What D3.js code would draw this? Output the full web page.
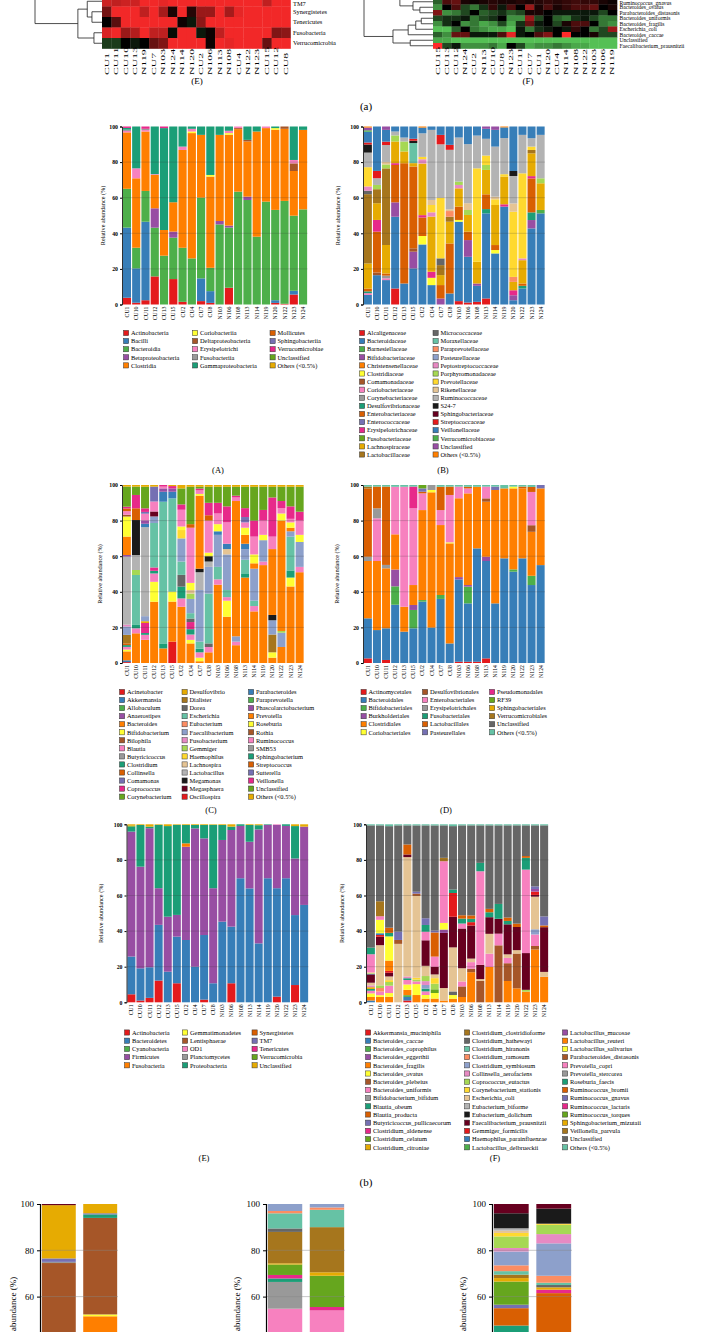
<!DOCTYPE html>
<html>
<head>
<meta charset="utf-8">
<script src="https://cdn.jsdelivr.net/npm/d3@7"></script>
<style>
  body { margin: 0; background: #fff; }
  svg { display: block; font-family: "Liberation Serif", "DejaVu Serif", serif; }
</style>
</head>
<body>
<svg id="fig" width="701" height="1344"></svg>
<script>
// ---------- data ----------
var samples = ["CU1","CU10","CU11","CU12","CU13","CU15","CU2","CU4","CU7","CU8","N103","N106","N108","N113","N114","N119","N120","N122","N123","N124"];
var yTicks = [0, 20, 40, 60, 80, 100];

// colour cycle used by every stacked panel (27 colours, then it repeats)
var palette = ["#e41a1c","#377eb8","#4daf4a","#984ea3","#ff7f00","#ffff33","#a65628","#f781bf","#999999",
  "#1b9e77","#d95f02","#7570b3","#e7298a","#66a61e","#e6ab02","#a6761d","#666666",
  "#66c2a5","#fc8d62","#8da0cb","#e78ac3","#a6d854","#ffd92f","#e5c494","#b3b3b3","#1a1a1a","#67001f"];

// heatmap (a)(E): phyla, only the lower rows are in view
var phylaCols = ["CU1","CU11","CU10","CU13","N119","CU7","N103","N124","N114","N120","CU2","N106","N113","N108","CU4","N122","N123","CU15","CU12","CU8"];
var phylaRows = ["TM7","Synergistetes","Tenericutes","Fusobacteria","Verrucomicrobia"];
var phylaHeat = [
  [0.8,0.75,0.8,0.8,0.95,0.95,0.9,0.95,0.95,0.95,0.95,0.95,0.95,0.95,0.95,0.95,0.95,0.75,0.95,0.95],
  [0.45,0.95,0.95,0.95,0.75,0.95,0.65,0.1,0.95,0.15,0.6,0.6,0.95,0.65,0.9,0.95,0.95,0.95,0.95,0.95],
  [0,0.35,0.95,0.95,0.95,0.95,0.95,0.95,0.05,-0.1,0.55,0.95,0.95,0.95,0.95,0.95,0.95,0.95,0.95,0.95],
  [0.85,0.95,0.6,0.7,0.95,0.75,0.75,-0.05,0.95,0.95,-0.1,0.05,0.75,0.95,0.95,0.95,0.95,0.95,0.5,0.55],
  [-0.25,-0.25,0,-0.1,0,0.4,0.5,0.95,0.95,0.95,0.95,0.05,0.95,0.9,0.95,0.95,0.95,0.4,0.95,0.95]
];
// merges: [child, child, height]; negative children are rows above the view
var phylaTree = [[1,2,0.15],[0,5,0.22],[3,4,0.12],[6,7,0.36],[-3,8,1]];

// heatmap (a)(F): species
var speciesCols = ["CU15","CU13","CU12","N124","CU2","N113","CU10","CU8","N123","CU11","CU7","CU1","N120","CU4","N114","N108","N122","N103","N106","N119"];
var speciesRows = ["Ruminococcus_gnavus","Bacteroides_ovatus","Parabacteroides_distasonis","Bacteroides_uniformis","Bacteroides_fragilis","Escherichia_coli","Bacteroides_caccae","Unclassified","Faecalibacterium_prausnitzii"];
var speciesHeat = [
  [-0.4,0.3,0.4,0.1,0.05,0.1,0.15,0.1,0.1,0.15,0.1,0.15,0.2,0.15,0.2,0.25,0.2,0.2,0.1,0.05],
  [-0.6,0,0.3,-0.3,-0.5,-0.2,0.2,-0.1,0.3,0,0.6,0.1,0.3,0.1,0.2,0.3,0.3,0.4,0,0.1],
  [0.5,-0.6,-0.5,-0.3,0,-0.4,-0.3,-0.2,-0.4,-0.3,0.1,0.1,0,-0.1,-0.1,-0.1,-0.1,-0.1,-0.3,0],
  [-0.3,-0.2,-0.2,-0.1,-0.5,-0.3,-0.2,0,-0.6,-0.6,0.6,-0.3,0,-0.4,-0.5,-0.2,-0.1,-0.3,-0.5,-0.5],
  [-0.6,-0.2,0,-0.6,-0.5,-0.7,-0.6,-0.3,-0.7,-0.2,0.4,-0.1,0,-0.3,0.1,0.3,0.3,0,-0.5,-0.6],
  [-0.8,-0.8,-0.4,0,-0.5,-0.6,-0.7,-0.7,-0.8,-0.1,-0.5,-0.2,-0.1,0,-0.1,0.2,0,-0.5,-0.3,0.6],
  [-0.4,-0.6,0.4,0.4,-0.1,-0.1,-0.1,0.3,0.9,-0.1,0,0.3,0.5,0,1,0,0,0.1,-0.3,-0.3],
  [-0.7,-0.7,-0.8,-0.8,-0.8,-0.8,-0.8,-0.8,-0.8,-0.8,-0.8,-0.8,-0.8,-0.8,-0.8,-0.8,-0.8,-0.8,-0.8,-0.8],
  [1,-0.3,-0.1,-0.6,-0.6,-0.6,-0.5,-0.7,0,-0.3,-0.7,-0.6,-0.6,-0.5,-0.6,-0.7,-0.7,-0.8,-0.8,-0.8]
];
var speciesTree = [[3,4,0.17],[9,5,0.25],[10,6,0.36],[7,8,0.33],[11,12,0.58],[1,2,0.19],[0,14,0.29],[-2,15,0.48],[-6,13,1]];

// (b)(A) class
var classTaxa = ["Actinobacteria","Bacilli","Bacteroidia","Betaproteobacteria","Clostridia","Coriobacteriia","Deltaproteobacteria","Erysipelotrichi","Fusobacteriia","Gammaproteobacteria","Mollicutes","Sphingobacteriia","Verrucomicrobiae","Unclassified","Others (<0.5%)"];
var classValues = [
  {Actinobacteria:3.8,Bacilli:39.4,Bacteroidia:21.8,Clostridia:31.7,Erysipelotrichi:0.8,Fusobacteriia:0.7,Gammaproteobacteria:1.0,Verrucomicrobiae:0.8},
  {Actinobacteria:1,Bacilli:19.3,Bacteroidia:11.6,Clostridia:39,Erysipelotrichi:5.6,Gammaproteobacteria:23.5},
  {Actinobacteria:2.4,Bacilli:44.1,Bacteroidia:17.3,Clostridia:33.4,Erysipelotrichi:0.8,Fusobacteriia:0.7,Verrucomicrobiae:1.3},
  {Actinobacteria:15.8,Bacteroidia:27.4,Betaproteobacteria:10.9,Clostridia:18.8,Erysipelotrichi:0.4,Gammaproteobacteria:26.8},
  {Bacteroidia:27.4,Clostridia:14.4,Gammaproteobacteria:57.2,Verrucomicrobiae:0.9},
  {Actinobacteria:14.3,Bacteroidia:23.3,Betaproteobacteria:3.4,Clostridia:16.5,Gammaproteobacteria:42.6},
  {Actinobacteria:1.5,Bacteroidia:30.4,Clostridia:55,Erysipelotrichi:1.9,Gammaproteobacteria:11.3},
  {Bacteroidia:25.9,Clostridia:70.4,Coriobacteriia:0.9,Erysipelotrichi:1.5,Gammaproteobacteria:1.3},
  {Actinobacteria:1.9,Bacilli:12.8,Bacteroidia:45.4,Clostridia:35.3,Gammaproteobacteria:4.7},
  {Actinobacteria:0.9,Bacilli:6.6,Bacteroidia:13.1,Clostridia:51.2,Coriobacteriia:0.9,Gammaproteobacteria:27.2},
  {Bacteroidia:45,Betaproteobacteria:1.9,Clostridia:48.4,Gammaproteobacteria:4.7},
  {Actinobacteria:9.4,Bacteroidia:33.8,Betaproteobacteria:1.1,Clostridia:51,Coriobacteriia:0.9,Erysipelotrichi:1.3,Gammaproteobacteria:2.4},
  {Bacteroidia:63.4,Clostridia:35.1,Deltaproteobacteria:0.6,Erysipelotrichi:0.9},
  {Bacteroidia:58.7,Betaproteobacteria:1.9,Clostridia:31,Deltaproteobacteria:0.9,Gammaproteobacteria:7.5},
  {Bacteroidia:38.1,Clostridia:59.1,Gammaproteobacteria:2.8},
  {Bacteroidia:57.8,Clostridia:41.3,Erysipelotrichi:0.9},
  {Actinobacteria:0.9,Bacilli:1.5,Bacteroidia:50.7,Clostridia:45,Coriobacteriia:0.9,Gammaproteobacteria:0.9},
  {Actinobacteria:0.4,Bacteroidia:57.8,Clostridia:40.5,Deltaproteobacteria:1.3},
  {Actinobacteria:5.6,Bacilli:2.1,Bacteroidia:42.2,Clostridia:25.1,Deltaproteobacteria:4.3,Erysipelotrichi:1.9,Gammaproteobacteria:18.8},
  {Bacteroidia:53.5,Clostridia:44.7,Gammaproteobacteria:1.9}
];

// (b)(B) family
var familyTaxa = ["Alcaligenaceae","Bacteroidaceae","Barnesiellaceae","Bifidobacteriaceae","Christensenellaceae","Clostridiaceae","Comamonadaceae","Coriobacteriaceae","Corynebacteriaceae","Desulfovibrionaceae","Enterobacteriaceae","Enterococcaceae","Erysipelotrichaceae","Fusobacteriaceae","Lachnospiraceae","Lactobacillaceae","Micrococcaceae","Moraxellaceae","Paraprevotellaceae","Pasteurellaceae","Peptostreptococcaceae","Porphyromonadaceae","Prevotellaceae","Rikenellaceae","Ruminococcaceae","S24-7","Sphingobacteriaceae","Streptococcaceae","Veillonellaceae","Verrucomicrobiaceae","Unclassified","Others (<0.5%)"];
var familyValues = [
  {Bacteroidaceae:5.3,Coriobacteriaceae:1,Desulfovibrionaceae:1,Enterobacteriaceae:1.5,Lachnospiraceae:14,Lactobacillaceae:38.5,Micrococcaceae:1.9,Peptostreptococcaceae:2.4,Prevotellaceae:10.7,Ruminococcaceae:8.1,"S24-7":4.5,Streptococcaceae:1.1,Veillonellaceae:6,Verrucomicrobiaceae:0.8,Unclassified:1.5,"Others (<0.5%)":0.6},
  {Bacteroidaceae:16.5,Comamonadaceae:1.5,Enterobacteriaceae:23,Erysipelotrichaceae:6.6,Lachnospiraceae:9.4,Lactobacillaceae:7.9,Porphyromonadaceae:2.4,Ruminococcaceae:3.8,Streptococcaceae:4.1,Veillonellaceae:25},
  {Bacteroidaceae:13.7,Coriobacteriaceae:1,Corynebacteriaceae:1.5,Enterobacteriaceae:1.2,Lachnospiraceae:16,Lactobacillaceae:43,Porphyromonadaceae:2.2,Rikenellaceae:1.5,Ruminococcaceae:9.4,Streptococcaceae:1.9,Veillonellaceae:6.6,Unclassified:1.9},
  {Alcaligenaceae:9,Bacteroidaceae:40.3,Bifidobacteriaceae:8.1,Enterobacteriaceae:21,Erysipelotrichaceae:1,Lachnospiraceae:12.2,Porphyromonadaceae:3.4,Ruminococcaceae:2.2,Veillonellaceae:2.8},
  {Bacteroidaceae:11.8,Enterobacteriaceae:67.5,Lachnospiraceae:6.6,Porphyromonadaceae:5.6,Ruminococcaceae:2.2,Veillonellaceae:6.2},
  {Bacteroidaceae:20.3,Bifidobacteriaceae:9.4,Comamonadaceae:1.9,Enterobacteriaceae:46,Lachnospiraceae:1.9,Moraxellaceae:11.3,"S24-7":1.3,Streptococcaceae:1.1,Veillonellaceae:6.9},
  {Bacteroidaceae:33.4,Clostridiaceae:4.7,Enterobacteriaceae:10.3,Erysipelotrichaceae:1.3,Lachnospiraceae:28.7,Peptostreptococcaceae:2.4,Prevotellaceae:1.3,Ruminococcaceae:13.1,Veillonellaceae:3.2,"Others (<0.5%)":0.6},
  {Bacteroidaceae:10.9,Clostridiaceae:4.1,Erysipelotrichaceae:3.4,Lachnospiraceae:31,Peptostreptococcaceae:2.4,Prevotellaceae:4.1,Rikenellaceae:2.8,Ruminococcaceae:39.4,Veillonellaceae:1.9},
  {Bifidobacteriaceae:3.4,Enterobacteriaceae:7.5,Lachnospiraceae:5.6,Lactobacillaceae:5.6,Micrococcaceae:3.8,Prevotellaceae:34,Ruminococcaceae:30,Streptococcaceae:5.3,Veillonellaceae:4.7},
  {Bacteroidaceae:6.2,Enterobacteriaceae:28.1,Lachnospiraceae:12.2,Lactobacillaceae:2.8,Paraprevotellaceae:3.2,Rikenellaceae:1,Ruminococcaceae:33.4,Streptococcaceae:2.8,Veillonellaceae:10.3},
  {Alcaligenaceae:1.9,Bacteroidaceae:44.7,Clostridiaceae:1,Enterobacteriaceae:7.5,Lachnospiraceae:10.3,Peptostreptococcaceae:1.9,Porphyromonadaceae:1.9,Ruminococcaceae:24.8,Veillonellaceae:6.2},
  {Alcaligenaceae:1.1,Bacteroidaceae:25.7,Bifidobacteriaceae:9.4,Enterobacteriaceae:4.7,Lachnospiraceae:9.4,Porphyromonadaceae:2.8,Rikenellaceae:3.8,Ruminococcaceae:33.2,Veillonellaceae:9.9},
  {Alcaligenaceae:1.5,Bacteroidaceae:9,Bifidobacteriaceae:1.3,Lachnospiraceae:12.2,Prevotellaceae:52.5,Ruminococcaceae:18.4,Veillonellaceae:5.1},
  {Alcaligenaceae:3.4,Bacteroidaceae:47.8,Desulfovibrionaceae:2.4,Enterobacteriaceae:8.3,Lachnospiraceae:13.7,Porphyromonadaceae:2.8,Prevotellaceae:5.3,Ruminococcaceae:9.4,Veillonellaceae:5.6,Unclassified:1.3},
  {Bacteroidaceae:28.7,Clostridiaceae:1.9,Enterobacteriaceae:2.8,Lachnospiraceae:22.5,Prevotellaceae:3.2,Rikenellaceae:1.5,Ruminococcaceae:28.1,Veillonellaceae:9.4,Unclassified:1.9},
  {Bacteroidaceae:55,Erysipelotrichaceae:1.3,Lachnospiraceae:15.6,Prevotellaceae:1.3,Ruminococcaceae:20.3,Veillonellaceae:6,"Others (<0.5%)":0.5},
  {Bacteroidaceae:2.4,Bifidobacteriaceae:2.8,Erysipelotrichaceae:2.8,Lachnospiraceae:4.7,Paraprevotellaceae:2.8,Prevotellaceae:36.6,Rikenellaceae:4.7,Ruminococcaceae:15.4,"S24-7":2.8,Veillonellaceae:25},
  {Bacteroidaceae:9,Desulfovibrionaceae:1.5,Enterobacteriaceae:1.3,Lachnospiraceae:13.1,Peptostreptococcaceae:1,Prevotellaceae:47.8,Ruminococcaceae:21.6,Veillonellaceae:4.7},
  {Bacteroidaceae:42.8,Bifidobacteriaceae:4.7,Desulfovibrionaceae:4.3,Enterobacteriaceae:19.1,Erysipelotrichaceae:1.3,Lachnospiraceae:12.8,Lactobacillaceae:1.9,Prevotellaceae:1.9,Ruminococcaceae:4.7,Veillonellaceae:6.6},
  {Bacteroidaceae:51.2,Barnesiellaceae:1.9,Lachnospiraceae:15,Porphyromonadaceae:2.8,Ruminococcaceae:24.4,Veillonellaceae:4.7}
];

// (b)(C) genus
var genusTaxa = ["Acinetobacter","Akkermansia","Allobaculum","Anaerostipes","Bacteroides","Bifidobacterium","Bilophila","Blautia","Butyricicoccus","Clostridium","Collinsella","Comamonas","Coprococcus","Corynebacterium","Desulfovibrio","Dialister","Dorea","Escherichia","Eubacterium","Faecalibacterium","Fusobacterium","Gemmiger","Haemophilus","Lachnospira","Lactobacillus","Megamonas","Megasphaera","Oscillospira","Parabacteroides","Paraprevotella","Phascolarctobacterium","Prevotella","Roseburia","Rothia","Ruminococcus","SMB53","Sphingobacterium","Streptococcus","Sutterella","Veillonella","Unclassified","Others (<0.5%)"];
var genusValues = [
  {Acinetobacter:0.5,Akkermansia:1,Bacteroides:5,Bifidobacterium:1,Blautia:1.5,Clostridium:1,Collinsella:1,Dialister:4.7,Faecalibacterium:4.7,Fusobacterium:1,Lactobacillus:38,Phascolarctobacterium:0.9,Prevotella:10.3,Roseburia:11.2,Rothia:1,Ruminococcus:2,Streptococcus:1.5,Veillonella:1,Unclassified:11.2,"Others (<0.5%)":0.9},
  {Bacteroides:16.7,Blautia:2.8,Clostridium:1.9,Escherichia:28.1,Gemmiger:2.8,Lactobacillus:8.4,Megamonas:19.7,Streptococcus:6.6,Veillonella:7.5,Unclassified:4.7,"Others (<0.5%)":0.9},
  {Bacteroides:12.9,Blautia:2.8,Clostridium:1,Coprococcus:5.6,Desulfovibrio:1,Faecalibacterium:2.8,Lactobacillus:49.6,Parabacteroides:1.9,Phascolarctobacterium:1.9,Ruminococcus:3.7,Sutterella:1,Veillonella:2,Unclassified:12,"Others (<0.5%)":1},
  {Bacteroides:34.5,Bifidobacterium:11.2,Blautia:4.7,Clostridium:1.5,Coprococcus:1.9,Escherichia:25,Faecalibacterium:3.7,Megasphaera:2.8,Ruminococcus:5.6,Sutterella:8.4,"Others (<0.5%)":0.9},
  {Bacteroides:8.2,Clostridium:2.8,Escherichia:79.6,Parabacteroides:5.6,Phascolarctobacterium:1.9,Ruminococcus:1,Veillonella:0.9},
  {Acinetobacter:12,Bacteroides:22.5,Bifidobacterium:5.6,Escherichia:52.4,Parabacteroides:3.7,Phascolarctobacterium:1.9,Veillonella:1.3,"Others (<0.5%)":0.6},
  {Bacteroides:31.6,Blautia:4.7,Clostridium:6.6,Dorea:6.6,Escherichia:7.5,Faecalibacterium:13,Haemophilus:4.7,Roseburia:2,Ruminococcus:9.4,Veillonella:3,Unclassified:9,"Others (<0.5%)":1.9},
  {Bacteroides:11,Bifidobacterium:2,Blautia:3,Clostridium:3,Coprococcus:4,Dorea:2,Escherichia:3,Faecalibacterium:8,Gemmiger:3,Lachnospira:2,Roseburia:4,Ruminococcus:31,Streptococcus:2,Unclassified:21,"Others (<0.5%)":1},
  {Bacteroides:1,Bifidobacterium:2,Blautia:3,Clostridium:2,Escherichia:4,Faecalibacterium:29,Lactobacillus:10,Megamonas:2,Prevotella:41,Roseburia:1,Ruminococcus:2,Veillonella:1,Unclassified:1,"Others (<0.5%)":1},
  {Bacteroides:6,Blautia:3,Dorea:2,Escherichia:28,Faecalibacterium:15,Lactobacillus:3,Megamonas:3,Roseburia:2,Ruminococcus:18,Streptococcus:3,Veillonella:7,Unclassified:9,"Others (<0.5%)":1},
  {Bacteroides:44,Blautia:3,Escherichia:7,Faecalibacterium:18,Parabacteroides:2,Roseburia:4,Ruminococcus:6,Veillonella:6,Unclassified:9,"Others (<0.5%)":1},
  {Bacteroides:26,Bifidobacterium:9,Blautia:2,Escherichia:4,Faecalibacterium:20,Lachnospira:3,Parabacteroides:3,Ruminococcus:12,Veillonella:9,Unclassified:11,"Others (<0.5%)":1},
  {Bacteroides:10,Blautia:2,Faecalibacterium:3,Prevotella:76,Ruminococcus:2,Veillonella:1,Unclassified:5,"Others (<0.5%)":1},
  {Bacteroides:48,Clostridium:2,Escherichia:8,Faecalibacterium:6,Parabacteroides:3,Prevotella:5,Roseburia:4,Ruminococcus:3,Sutterella:3,Veillonella:5,Unclassified:12,"Others (<0.5%)":1},
  {Bacteroides:29,Blautia:3,Escherichia:3,Faecalibacterium:18,Prevotella:3,Roseburia:5,Ruminococcus:10,Veillonella:9,Unclassified:19,"Others (<0.5%)":1},
  {Bacteroides:55,Blautia:2,Faecalibacterium:12,Roseburia:3,Ruminococcus:8,Veillonella:6,Unclassified:13,"Others (<0.5%)":1},
  {Bacteroides:3,Bifidobacterium:3,Dialister:10,Faecalibacterium:8,Megamonas:3,Prevotella:37,Ruminococcus:7,Veillonella:22,Unclassified:6,"Others (<0.5%)":1},
  {Bacteroides:9,Faecalibacterium:8,Gemmiger:1,Prevotella:62,Roseburia:4,Ruminococcus:3,Veillonella:4,Unclassified:8,"Others (<0.5%)":1},
  {Bacteroides:43,Bifidobacterium:5,Clostridium:4,Escherichia:19,Faecalibacterium:3,Prevotella:2,Roseburia:3,Ruminococcus:2,Veillonella:7,Unclassified:11,"Others (<0.5%)":1},
  {Bacteroides:51,Blautia:3,Faecalibacterium:14,Roseburia:4,Ruminococcus:8,Veillonella:5,Unclassified:14,"Others (<0.5%)":1}
];

// (b)(D) order
var orderTaxa = ["Actinomycetales","Bacteroidales","Bifidobacteriales","Burkholderiales","Clostridiales","Coriobacteriales","Desulfovibrionales","Enterobacteriales","Erysipelotrichales","Fusobacteriales","Lactobacillales","Pasteurellales","Pseudomonadales","RF39","Sphingobacteriales","Verrucomicrobiales","Unclassified","Others (<0.5%)"];
var orderValues = [
  {Actinomycetales:2.6,Bacteroidales:22.5,Clostridiales:32.2,Erysipelotrichales:2.4,Lactobacillales:38.4,Verrucomicrobiales:1,"Others (<0.5%)":0.9},
  {Bacteroidales:18.5,Clostridiales:38.8,Enterobacteriales:24,Erysipelotrichales:5.6,Lactobacillales:12.2,"Others (<0.5%)":0.9},
  {Actinomycetales:1.7,Bacteroidales:17.8,Clostridiales:33.7,Erysipelotrichales:1.9,Lactobacillales:44,"Others (<0.5%)":0.9},
  {Bacteroidales:32.6,Bifidobacteriales:10.3,Burkholderiales:9.4,Clostridiales:19.7,Enterobacteriales:26.6,"Others (<0.5%)":1},
  {Bacteroidales:17.6,Clostridiales:14,Enterobacteriales:67.4,"Others (<0.5%)":1},
  {Bacteroidales:19.5,Bifidobacteriales:10.3,Burkholderiales:2.8,Clostridiales:11.2,Enterobacteriales:43.1,Pseudomonadales:12.2,"Others (<0.5%)":0.9},
  {Bacteroidales:34.5,Bifidobacteriales:0.9,Clostridiales:50.6,Enterobacteriales:9.4,Lactobacillales:0.9,Pasteurellales:1.9,RF39:1.9},
  {Bacteroidales:19.9,Clostridiales:76,Coriobacteriales:1.3,Erysipelotrichales:2.8},
  {Bacteroidales:36,Bifidobacteriales:2.2,Clostridiales:39.3,Enterobacteriales:8.4,Lactobacillales:13.1,"Others (<0.5%)":1},
  {Bacteroidales:11,Clostridiales:56.2,Coriobacteriales:0.6,Enterobacteriales:26.6,Lactobacillales:4.7,"Others (<0.5%)":0.9},
  {Actinomycetales:0.7,Bacteroidales:46.6,Burkholderiales:1.3,Clostridiales:44.6,Enterobacteriales:6.6,"Others (<0.5%)":0.9},
  {Actinomycetales:0.7,Bacteroidales:32.8,Bifidobacteriales:9.4,Burkholderiales:0.9,Clostridiales:51.5,Enterobacteriales:2.8,Lactobacillales:0.9,"Others (<0.5%)":1},
  {Actinomycetales:0.7,Bacteroidales:63.7,Clostridiales:34.6,"Others (<0.5%)":1},
  {Actinomycetales:2.6,Bacteroidales:54.7,Burkholderiales:2.4,Clostridiales:30.9,Desulfovibrionales:1.9,Enterobacteriales:6.6,"Others (<0.5%)":0.9},
  {Bacteroidales:33.5,Clostridiales:63.7,Pasteurellales:1.9,"Others (<0.5%)":0.9},
  {Bacteroidales:58.8,Clostridiales:39.3,"Others (<0.5%)":1.9},
  {Bacteroidales:51.3,Bifidobacteriales:1.3,Clostridiales:45.5,Coriobacteriales:1,"Others (<0.5%)":0.9},
  {Bacteroidales:58.8,Clostridiales:39.3,Lactobacillales:1,"Others (<0.5%)":0.9},
  {Bacteroidales:43.8,Bifidobacteriales:5.2,Clostridiales:24.7,Desulfovibrionales:3.7,Enterobacteriales:18.7,Lactobacillales:2.8,"Others (<0.5%)":1.1},
  {Bacteroidales:55,Clostridiales:43.1,Pasteurellales:1.9}
];

// (b)(E) phylum
var phylumTaxa = ["Actinobacteria","Bacteroidetes","Cyanobacteria","Firmicutes","Fusobacteria","Gemmatimonadetes","Lentisphaerae","OD1","Planctomycetes","Proteobacteria","Synergistetes","TM7","Tenericutes","Verrucomicrobia","Unclassified"];
var phylumValues = [
  {Actinobacteria:4.5,Bacteroidetes:21.2,Firmicutes:70.2,Proteobacteria:2.8,Verrucomicrobia:0.5,Unclassified:0.8},
  {Actinobacteria:1,Bacteroidetes:18.1,Firmicutes:57.1,Proteobacteria:23.4,Unclassified:0.4},
  {Actinobacteria:2.5,Bacteroidetes:17.2,Firmicutes:78.1,Proteobacteria:0.9,Unclassified:1.3},
  {Actinobacteria:12.2,Bacteroidetes:31.3,Firmicutes:20.6,Proteobacteria:35.6,Unclassified:0.3},
  {Bacteroidetes:17.2,Firmicutes:30.9,Proteobacteria:50.9,Unclassified:1},
  {Actinobacteria:10.7,Bacteroidetes:26.2,Firmicutes:12.2,Proteobacteria:50.6,Unclassified:0.3},
  {Bacteroidetes:35,Firmicutes:52.4,Fusobacteria:1.9,Proteobacteria:10.3,Unclassified:0.4},
  {Bacteroidetes:20,Firmicutes:77.7,Proteobacteria:1.9,Unclassified:0.4},
  {Actinobacteria:1.5,Bacteroidetes:36.3,Firmicutes:54.3,Proteobacteria:7.5,Unclassified:0.4},
  {Bacteroidetes:10.7,Firmicutes:53.4,Proteobacteria:35.6,Unclassified:0.3},
  {Bacteroidetes:45.3,Firmicutes:45.9,Proteobacteria:8.4,Unclassified:0.4},
  {Actinobacteria:10.7,Bacteroidetes:31.8,Firmicutes:54.3,Proteobacteria:1.9,Unclassified:1.3},
  {Bacteroidetes:69.7,Firmicutes:29.4,Proteobacteria:0.9},
  {Bacteroidetes:64,Firmicutes:26.2,Proteobacteria:9.4,Unclassified:0.4},
  {Bacteroidetes:33.1,Firmicutes:64,Proteobacteria:2.4,Unclassified:0.5},
  {Bacteroidetes:69.7,Firmicutes:30,Proteobacteria:0.3},
  {Actinobacteria:3.2,Bacteroidetes:60.9,Firmicutes:35.6,OD1:0.3},
  {Bacteroidetes:69.7,Firmicutes:29.4,Proteobacteria:0.9},
  {Actinobacteria:9.7,Bacteroidetes:39.3,Firmicutes:31.8,Proteobacteria:18.2,Unclassified:1},
  {Bacteroidetes:54.7,Firmicutes:44,Unclassified:1.3}
];

// (b)(F) species
var speciesTaxa = ["Akkermansia_muciniphila","Bacteroides_caccae","Bacteroides_coprophilus","Bacteroides_eggerthii","Bacteroides_fragilis","Bacteroides_ovatus","Bacteroides_plebeius","Bacteroides_uniformis","Bifidobacterium_bifidum","Blautia_obeum","Blautia_producta","Butyricicoccus_pullicaecorum","Clostridium_aldenense","Clostridium_celatum","Clostridium_citroniae","Clostridium_clostridioforme","Clostridium_hathewayi","Clostridium_hiranonis","Clostridium_ramosum","Clostridium_symbiosum","Collinsella_aerofaciens","Coprococcus_eutactus","Corynebacterium_stationis","Escherichia_coli","Eubacterium_biforme","Eubacterium_dolichum","Faecalibacterium_prausnitzii","Gemmiger_formicilis","Haemophilus_parainfluenzae","Lactobacillus_delbrueckii","Lactobacillus_mucosae","Lactobacillus_reuteri","Lactobacillus_salivarius","Parabacteroides_distasonis","Prevotella_copri","Prevotella_stercorea","Roseburia_faecis","Ruminococcus_bromii","Ruminococcus_gnavus","Ruminococcus_lactaris","Ruminococcus_torques","Sphingobacterium_mizutaii","Veillonella_parvula","Unclassified","Others (<0.5%)"];
var speciesValues = [
  {Bacteroides_caccae:1,Bacteroides_fragilis:2,Bacteroides_ovatus:2,Bacteroides_uniformis:1.5,Blautia_obeum:1,Clostridium_citroniae:1,Collinsella_aerofaciens:1,Escherichia_coli:1.5,Faecalibacterium_prausnitzii:4.7,Haemophilus_parainfluenzae:0.5,Lactobacillus_salivarius:0.5,Prevotella_copri:10.3,Roseburia_faecis:3.7,Unclassified:68.7,"Others (<0.5%)":0.6},
  {Bacteroides_fragilis:3,Bacteroides_ovatus:1,Bacteroides_uniformis:2,Clostridium_ramosum:2,Coprococcus_eutactus:1.5,Escherichia_coli:22.5,Faecalibacterium_prausnitzii:4.7,Gemmiger_formicilis:1,Haemophilus_parainfluenzae:1,Lactobacillus_salivarius:7.5,Prevotella_copri:2,Veillonella_parvula:8.4,Unclassified:42.5,"Others (<0.5%)":0.6},
  {Bacteroides_fragilis:3,Bacteroides_ovatus:2,Bacteroides_uniformis:4,Coprococcus_eutactus:2,Corynebacterium_stationis:1,Escherichia_coli:2,Faecalibacterium_prausnitzii:2,Gemmiger_formicilis:1,Lactobacillus_reuteri:5.6,Lactobacillus_salivarius:13.1,Roseburia_faecis:1.9,Ruminococcus_bromii:2.8,Unclassified:55,"Others (<0.5%)":1},
  {Escherichia_coli:33,Parabacteroides_distasonis:2.2,Ruminococcus_gnavus:4.7,Unclassified:60,"Others (<0.5%)":0.6},
  {Akkermansia_muciniphila:1,Bacteroides_caccae:2,Bacteroides_coprophilus:1,Bacteroides_fragilis:3,Bacteroides_ovatus:3,Bacteroides_uniformis:2.5,Blautia_obeum:1,Collinsella_aerofaciens:1,Escherichia_coli:66.9,Faecalibacterium_prausnitzii:1.5,Ruminococcus_bromii:5.6,Unclassified:10.7,"Others (<0.5%)":0.6},
  {Bacteroides_fragilis:4,Bacteroides_ovatus:6,Bacteroides_uniformis:1.5,Coprococcus_eutactus:1,Corynebacterium_stationis:1,Escherichia_coli:45,Parabacteroides_distasonis:1.3,Ruminococcus_gnavus:1,Unclassified:36.5,"Others (<0.5%)":0.6},
  {Bacteroides_fragilis:2,Bacteroides_ovatus:2,Bacteroides_uniformis:2,Blautia_obeum:1.5,Clostridium_symbiosum:2,Collinsella_aerofaciens:2.1,Coprococcus_eutactus:2.8,Escherichia_coli:5.6,Faecalibacterium_prausnitzii:14,Prevotella_copri:4.7,Roseburia_faecis:3.7,Ruminococcus_gnavus:3.7,Unclassified:50.9,"Others (<0.5%)":0.6},
  {Bacteroides_fragilis:2,Bacteroides_ovatus:3,Clostridium_celatum:2,Coprococcus_eutactus:3,Corynebacterium_stationis:3,Escherichia_coli:2,Faecalibacterium_prausnitzii:4,Prevotella_copri:5.6,Ruminococcus_bromii:13,Ruminococcus_gnavus:1,Unclassified:56.6,"Others (<0.5%)":0.6},
  {Bacteroides_fragilis:1,Escherichia_coli:7,Faecalibacterium_prausnitzii:30.9,Lactobacillus_mucosae:1.9,Lactobacillus_salivarius:3.7,Prevotella_copri:34.6,Veillonella_parvula:1.9,Unclassified:18.2,"Others (<0.5%)":0.6},
  {Bacteroides_fragilis:2,Bacteroides_ovatus:2,Clostridium_hathewayi:2,Escherichia_coli:24.3,Faecalibacterium_prausnitzii:16.9,Gemmiger_formicilis:13.1,Roseburia_faecis:1.9,Unclassified:35,"Others (<0.5%)":1},
  {Bacteroides_fragilis:3,Bacteroides_plebeius:6,Bacteroides_uniformis:2.8,Escherichia_coli:7.5,Faecalibacterium_prausnitzii:22.5,Prevotella_copri:2.8,Roseburia_faecis:2.8,Ruminococcus_bromii:1.9,Unclassified:50.9,"Others (<0.5%)":0.6},
  {Bacteroides_fragilis:17,Bacteroides_plebeius:2,Bacteroides_uniformis:3.7,Escherichia_coli:2,Faecalibacterium_prausnitzii:18.7,Gemmiger_formicilis:1.9,Roseburia_faecis:1.9,Ruminococcus_bromii:1.9,Unclassified:50.9,"Others (<0.5%)":0.6},
  {Bacteroides_plebeius:12,Escherichia_coli:1,Faecalibacterium_prausnitzii:8,Prevotella_copri:52.4,Roseburia_faecis:4.7,Unclassified:21,"Others (<0.5%)":0.6},
  {Bacteroides_fragilis:20,Bacteroides_uniformis:7.5,Escherichia_coli:11.2,Faecalibacterium_prausnitzii:9.4,Roseburia_faecis:2.8,Ruminococcus_bromii:1.9,Unclassified:47.2,"Others (<0.5%)":0.6},
  {Bacteroides_plebeius:32.2,Bacteroides_uniformis:6.6,Faecalibacterium_prausnitzii:8.4,Roseburia_faecis:8.4,Unclassified:44.4,"Others (<0.5%)":0.6},
  {Bacteroides_fragilis:12,Bacteroides_plebeius:10,Bacteroides_uniformis:3,Escherichia_coli:2,Faecalibacterium_prausnitzii:16.9,Roseburia_faecis:1.9,Ruminococcus_bromii:1.9,Unclassified:51.9,"Others (<0.5%)":0.6},
  {Bacteroides_fragilis:7.9,Bacteroides_plebeius:19.7,Escherichia_coli:1.9,Faecalibacterium_prausnitzii:13.1,Ruminococcus_bromii:1.9,Unclassified:55.6,"Others (<0.5%)":0.6},
  {Bacteroides_fragilis:6,Coprococcus_eutactus:1,Faecalibacterium_prausnitzii:20.6,Prevotella_copri:46.8,Roseburia_faecis:6.6,Ruminococcus_bromii:1,Unclassified:17.2,"Others (<0.5%)":0.6},
  {Bacteroides_fragilis:30.3,Bacteroides_plebeius:2,Bacteroides_uniformis:6.6,Clostridium_symbiosum:3,Escherichia_coli:18.7,Faecalibacterium_prausnitzii:1,Gemmiger_formicilis:1.9,Lactobacillus_mucosae:1.5,Ruminococcus_gnavus:1.5,Unclassified:35,"Others (<0.5%)":0.6},
  {Bacteroides_fragilis:14.4,Escherichia_coli:2.8,Faecalibacterium_prausnitzii:25.3,Ruminococcus_bromii:1,Ruminococcus_gnavus:5.1,Unclassified:51.5,"Others (<0.5%)":0.6}
];

// (c) group means, only the top of each panel is in view
var groups = ["CU", "N"];
var groupTicks = [60, 80, 100];
var groupPanel1 = [
  {Bacteroides:20,Bifidobacterium:0.5,Bilophila:54,Butyricicoccus:0.5,Comamonas:1.5,Desulfovibrio:23,Megasphaera:0.5},
  {Bacteroides:51.5,Bifidobacterium:0.8,Bilophila:41.7,Clostridium:1.5,Comamonas:0.5,Desulfovibrio:4}
];
var groupPanel2 = [
  {Blautia:54.5,Butyricicoccus:11.5,Clostridium:1.5,Coprococcus:1.5,Corynebacterium:4.5,Desulfovibrio:0.5,Dialister:13.5,Dorea:1.5,Escherichia:6.5,Eubacterium:1,Faecalibacterium:3},
  {Blautia:54,Coprococcus:1.5,Corynebacterium:13.5,Desulfovibrio:1.5,Dialister:19.5,Escherichia:7.5,Eubacterium:1,Faecalibacterium:1.5}
];
var groupPanel3 = [
  {Clostridium:47.5,Collinsella:7.5,Comamonas:1.5,Corynebacterium:10,Desulfovibrio:1.5,Dialister:1.5,Escherichia:1.5,Eubacterium:2.5,Faecalibacterium:6,Fusobacterium:1.5,Gemmiger:5,Haemophilus:1.5,Lachnospira:1,Lactobacillus:1,Megamonas:6.5,Megasphaera:4},
  {Collinsella:61.5,Coprococcus:1.5,Desulfovibrio:1,Dorea:1,Escherichia:1,Eubacterium:3,Faecalibacterium:14,Fusobacterium:4,Gemmiger:4,Haemophilus:0.5,Megamonas:6.5,Megasphaera:2}
];

// ---------- drawing ----------
var svg = d3.select("#fig");
svg.append("rect").attr("width", 701).attr("height", 1344).attr("fill", "#fff");

var heatColor = d3.scaleLinear().domain([-1, 0, 1]).range(["#6af06a", "#000000", "#ff2a2a"]);

function normalise(values, taxa, names) {
  return values.map(function(v, i) {
    var total = d3.sum(taxa, function(k) { return v[k] || 0; });
    var row = { sample: names[i] };
    taxa.forEach(function(k) { row[k] = (v[k] || 0) / total * 100; });
    return row;
  });
}

function heatmap(o) {
  var g = svg.append("g");
  var x = d3.scaleBand().domain(o.cols).range([o.left, o.right]);
  var top = o.bottom - o.rows.length * o.rowH;
  var y = d3.scaleBand().domain(o.rows).range([top, o.bottom]);
  var rowY = d3.scaleLinear().domain([0, 1]).range([top + o.rowH / 2, top + o.rowH * 1.5]);

  o.rows.forEach(function(r, ri) {
    g.append("g").selectAll("rect")
      .data(o.values[ri])
      .enter()
      .append("rect")
      .attr("x", function(d, ci) { return x(o.cols[ci]); })
      .attr("y", y(r))
      .attr("width", x.bandwidth() + 0.3)
      .attr("height", y.bandwidth() + 0.3)
      .attr("fill", function(d) { return heatColor(d); });
  });

  // the top row label sits at the page edge; keep it readable
  g.selectAll(".rowlab")
    .data(o.rows)
    .enter()
    .append("text")
    .attr("x", o.right + 2.5)
    .attr("y", function(d) { return Math.max(y(d) + y.bandwidth() / 2, o.rowFont * 0.55); })
    .attr("dy", "0.35em")
    .attr("font-size", o.rowFont)
    .text(function(d) { return d; });

  g.selectAll(".collab")
    .data(o.cols)
    .enter()
    .append("text")
    .attr("transform", function(d) {
      return "translate(" + (x(d) + x.bandwidth() / 2) + "," + o.colLabelY + ") rotate(-90) scale(2.1,1)";
    })
    .attr("dy", "0.35em")
    .attr("font-size", 5.6)
    .text(function(d) { return d; });

  // dendrogram
  var hx = d3.scaleLinear().domain([0, 1]).range([o.left, o.treeLeft]);
  var pos = {};
  var id = o.rows.length;
  function node(k) {
    if (pos[k]) return pos[k];
    return { x: hx(0), y: rowY(k) };
  }
  o.tree.forEach(function(m) {
    var a = node(m[0]), b = node(m[1]), xm = hx(m[2]);
    g.append("path")
      .attr("d", "M" + a.x + "," + a.y + "H" + xm + "V" + b.y + "H" + b.x)
      .attr("fill", "none")
      .attr("stroke", "#222")
      .attr("stroke-width", 0.8);
    pos[id++] = { x: xm, y: (a.y + b.y) / 2 };
  });
}

function stackedChart(o) {
  var g = svg.append("g");
  var rows = normalise(o.values, o.taxa, samples);
  var series = d3.stack().keys(o.taxa)(rows);
  var x = d3.scaleBand().domain(samples).range([o.left, o.right]).paddingInner(0.12).paddingOuter(0.04);
  var y = d3.scaleLinear().domain([0, 100]).range([o.bottom, o.top]);

  g.selectAll(".layer")
    .data(series)
    .enter()
    .append("g")
    .attr("fill", function(d, i) { return palette[i % palette.length]; })
    .selectAll("rect")
    .data(function(d) { return d; })
    .enter()
    .append("rect")
    .attr("x", function(d) { return x(d.data.sample); })
    .attr("y", function(d) { return y(d[1]); })
    .attr("width", x.bandwidth())
    .attr("height", function(d) { return Math.max(0, y(d[0]) - y(d[1])); });

  // grid lines drawn over the bars
  g.selectAll(".grid")
    .data(yTicks.slice(1, 5))
    .enter()
    .append("line")
    .attr("x1", o.left).attr("x2", o.right)
    .attr("y1", function(d) { return y(d); }).attr("y2", function(d) { return y(d); })
    .attr("stroke", "#333").attr("stroke-opacity", 0.35).attr("stroke-width", 0.6);

  var yAxis = g.append("g")
    .attr("transform", "translate(" + (o.left - 0.5) + ",0)")
    .call(d3.axisLeft(y).tickValues(yTicks).tickSize(2).tickPadding(2));
  yAxis.selectAll("text").attr("font-size", 5.8).attr("font-family", "Liberation Serif, serif").attr("font-weight", "bold");
  yAxis.select(".domain").attr("stroke-width", 0.8);

  var xAxis = g.append("g")
    .attr("transform", "translate(0," + o.bottom + ")")
    .call(d3.axisBottom(x).tickSize(0));
  xAxis.select(".domain").remove();
  xAxis.selectAll("text")
    .attr("transform", "rotate(-90)")
    .attr("x", -2).attr("y", 0).attr("dy", "0.35em")
    .attr("text-anchor", "end")
    .attr("font-size", 5.8)
    .attr("font-family", "Liberation Serif, serif");

  g.append("text")
    .attr("transform", "translate(" + o.titleX + "," + (o.top + o.bottom) / 2 + ") rotate(-90)")
    .attr("text-anchor", "middle")
    .attr("font-size", 6.2)
    .text("Relative abundance (%)");

  // legend, filled column by column
  var leg = g.append("g").selectAll("g")
    .data(o.taxa)
    .enter()
    .append("g")
    .attr("transform", function(d, i) {
      var col = Math.floor(i / o.legendRows), row = i % o.legendRows;
      return "translate(" + o.legendX[col] + "," + (o.legendY + row * o.legendStep) + ")";
    });
  leg.append("rect")
    .attr("x", 0).attr("y", -2.6).attr("width", 5.2).attr("height", 5.2)
    .attr("fill", function(d, i) { return palette[i % palette.length]; })
    .attr("stroke", "#333").attr("stroke-width", 0.5);
  leg.append("text")
    .attr("x", 7.5).attr("y", 0).attr("dy", "0.35em")
    .attr("font-size", 6.4)
    .text(function(d) { return d; });

  svg.append("text")
    .attr("x", o.labelX).attr("y", o.labelY).attr("dy", "0.35em")
    .attr("text-anchor", "middle").attr("font-size", 8.5)
    .text(o.label);
}

function groupChart(o) {
  var clipId = "clip" + o.id;
  svg.append("clipPath").attr("id", clipId)
    .append("rect").attr("x", 0).attr("y", 1190).attr("width", 701).attr("height", 142);
  var g = svg.append("g").attr("clip-path", "url(#" + clipId + ")");
  var rows = normalise(o.values, genusTaxa, groups);
  var series = d3.stack().keys(genusTaxa)(rows);
  var x = d3.scaleBand().domain(groups).range([o.left + 1, o.right]).paddingInner(0.18).paddingOuter(0.02);
  var y = d3.scaleLinear().domain([0, 100]).range([1435.5, 1204]);

  g.selectAll(".layer")
    .data(series)
    .enter()
    .append("g")
    .attr("fill", function(d, i) { return palette[i % palette.length]; })
    .selectAll("rect")
    .data(function(d) { return d; })
    .enter()
    .append("rect")
    .attr("x", function(d) { return x(d.data.sample); })
    .attr("y", function(d) { return y(d[1]); })
    .attr("width", x.bandwidth())
    .attr("height", function(d) { return Math.max(0, y(d[0]) - y(d[1])); });

  g.selectAll(".grid")
    .data(groupTicks.slice(0, 2))
    .enter()
    .append("line")
    .attr("x1", o.left).attr("x2", o.right)
    .attr("y1", function(d) { return y(d); }).attr("y2", function(d) { return y(d); })
    .attr("stroke", "#888").attr("stroke-opacity", 0.45).attr("stroke-width", 1);

  var yAxis = g.append("g")
    .attr("transform", "translate(" + o.left + ",0)")
    .call(d3.axisLeft(y).tickValues(groupTicks).tickSize(3).tickPadding(3));
  yAxis.selectAll("text").attr("font-size", 9).attr("font-family", "Liberation Serif, serif");
  yAxis.select(".domain").attr("stroke-width", 1.2);

  // only the upper part of the axis title is inside the picture
  svg.append("text")
    .attr("transform", "translate(" + o.titleX + ",1331) rotate(-90)")
    .attr("text-anchor", "start")
    .attr("dy", "0.35em")
    .attr("font-size", 9)
    .text("abundance (%)");
}

// ---- (a) heatmaps ----
heatmap({ cols: phylaCols, rows: phylaRows, values: phylaHeat, tree: phylaTree,
  left: 102, right: 290.5, bottom: 48.5, rowH: 10.5, treeLeft: 35, rowFont: 6.4, colLabelY: 75 });
heatmap({ cols: speciesCols, rows: speciesRows, values: speciesHeat, tree: speciesTree,
  left: 433, right: 617, bottom: 48.5, rowH: 5.5, treeLeft: 364, rowFont: 5.6, colLabelY: 75 });

svg.append("text").attr("x", 197).attr("y", 84).attr("text-anchor", "middle").attr("font-size", 9).text("(E)");
svg.append("text").attr("x", 528).attr("y", 84).attr("text-anchor", "middle").attr("font-size", 9).text("(F)");
svg.append("text").attr("x", 366).attr("y", 110).attr("text-anchor", "middle").attr("font-size", 11).text("(a)");

// ---- (b) stacked panels ----
stackedChart({ taxa: classTaxa, values: classValues, left: 122.5, right: 307.5, top: 126.5, bottom: 304.5,
  titleX: 105, legendX: [123.5, 192.5, 270], legendY: 333, legendStep: 8.1, legendRows: 5,
  label: "(A)", labelX: 218, labelY: 470 });
stackedChart({ taxa: familyTaxa, values: familyValues, left: 363.5, right: 545, top: 126.5, bottom: 304.5,
  titleX: 340, legendX: [359.5, 433], legendY: 333, legendStep: 8.1, legendRows: 16,
  label: "(B)", labelX: 443, labelY: 470 });
stackedChart({ taxa: genusTaxa, values: genusValues, left: 122.5, right: 304, top: 485, bottom: 663,
  titleX: 102, legendX: [119.5, 182, 248.5], legendY: 692, legendStep: 8.05, legendRows: 14,
  label: "(C)", labelX: 211, labelY: 810 });
stackedChart({ taxa: orderTaxa, values: orderValues, left: 363.5, right: 545, top: 485, bottom: 663,
  titleX: 339, legendX: [361, 422.5, 489.5], legendY: 692, legendStep: 8.05, legendRows: 6,
  label: "(D)", labelX: 446, labelY: 810 });
stackedChart({ taxa: phylumTaxa, values: phylumValues, left: 127, right: 308.5, top: 824.3, bottom: 1002.3,
  titleX: 103, legendX: [124.5, 182.5, 252], legendY: 1032.5, legendStep: 8.2, legendRows: 5,
  label: "(E)", labelX: 204, labelY: 1158 });
stackedChart({ taxa: speciesTaxa, values: speciesValues, left: 366.5, right: 548.5, top: 824.3, bottom: 1002.3,
  titleX: 344, legendX: [365.5, 464.5, 562.5], legendY: 1032.5, legendStep: 8.2, legendRows: 15,
  label: "(F)", labelX: 495, labelY: 1158 });

svg.append("text").attr("x", 366).attr("y", 1186).attr("text-anchor", "middle").attr("font-size", 11).text("(b)");

// ---- (c) group panels ----
groupChart({ id: 1, values: groupPanel1, left: 40, right: 118, titleX: 13 });
groupChart({ id: 2, values: groupPanel2, left: 266, right: 345, titleX: 237 });
groupChart({ id: 3, values: groupPanel3, left: 492, right: 572, titleX: 463 });
</script>
</body>
</html>
